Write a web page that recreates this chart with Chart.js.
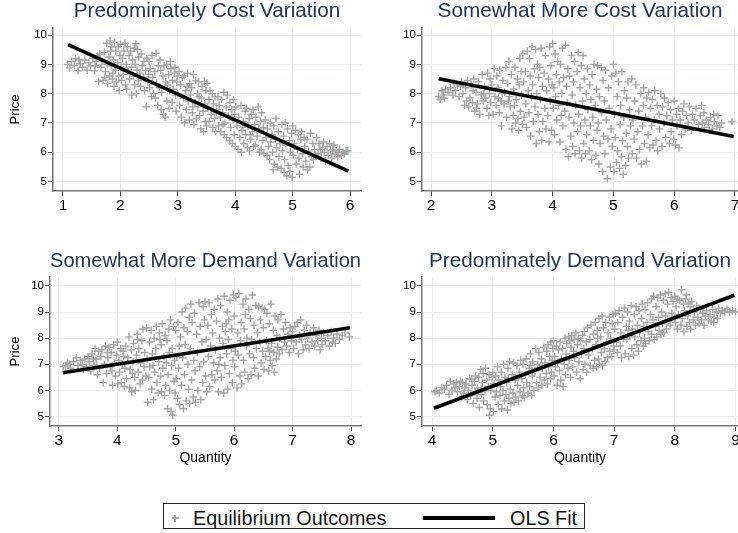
<!DOCTYPE html>
<html>
<head>
<meta charset="utf-8">
<script src="https://cdn.jsdelivr.net/npm/chart.js@4.4.0/dist/chart.umd.min.js"></script>
<style>
  html, body { margin: 0; padding: 0; background: #fff; overflow: hidden; }
  body { width: 738px; height: 533px; position: relative; font-family: "Liberation Sans", Arial, sans-serif; }
  .panel { position: absolute; }
  #legend { position: absolute; left: 163px; top: 503px; width: 422px; height: 26px; border: 1px solid #222; box-sizing: border-box; background: #fff; }
  .lg { position: absolute; font-size: 19.8px; line-height: 20px; color: #111; white-space: nowrap; }
  .mk { position: absolute; background: #a4a4a4; }
</style>
</head>
<body>
<div class="panel" style="left:0;top:0;width:369px;height:225px"><canvas id="p1"></canvas></div>
<div class="panel" style="left:369px;top:0;width:379px;height:225px"><canvas id="p2"></canvas></div>
<div class="panel" style="left:0;top:245px;width:369px;height:230px"><canvas id="p3"></canvas></div>
<div class="panel" style="left:369px;top:245px;width:379px;height:230px"><canvas id="p4"></canvas></div>

<div id="legend"></div>
<div class="mk" style="left:171.5px;top:517.3px;width:7px;height:1.4px"></div>
<div class="mk" style="left:174.3px;top:514.5px;width:1.4px;height:7px"></div>
<div class="lg" style="left:193px;top:508px">Equilibrium Outcomes</div>
<div style="position:absolute;left:423px;top:516px;width:72px;height:4px;background:#000"></div>
<div class="lg" style="left:510px;top:508px">OLS Fit</div>

<script>
// tick values
const priceTicks = [5, 6, 7, 8, 9, 10];
const costQtyTicks = [1, 2, 3, 4, 5, 6];
const moreCostQtyTicks = [2, 3, 4, 5, 6, 7];
const moreDemandQtyTicks = [3, 4, 5, 6, 7, 8];
const demandQtyTicks = [4, 5, 6, 7, 8, 9];

// OLS fit line end points (quantity, price)
const costFit = [[1.087, 9.67], [5.97, 5.36]];
const moreCostFit = [[2.126, 8.51], [6.98, 6.54]];
const moreDemandFit = [[3.07, 6.68], [7.98, 8.40]];
const demandFit = [[4.03, 5.32], [8.98, 9.64]];

// equilibrium outcomes (quantity, price)
const costPts = [
  [1.08,9.0],[1.12,8.88],[1.15,9.1],[1.2,8.95],[1.22,9.2],[1.26,8.78],[1.3,9.02],[1.34,8.9],[1.38,9.15],[1.42,8.8],[1.45,9.05],[1.48,8.95],[1.52,9.2],[1.55,8.78],[1.58,9.1],[1.6,9.3],[1.56,8.95],[1.28,9.15],
  [1.62,8.42],[1.64,9.35],[1.66,8.9],[1.68,9.1],[1.7,8.45],[1.72,9.4],[1.74,8.75],[1.76,9.72],[1.77,9.0],[1.78,8.35],[1.8,9.25],[1.81,8.6],[1.82,9.8],[1.84,8.95],[1.85,9.6],[1.86,8.5],[1.88,9.15],[1.89,8.25],[1.9,9.75],[1.91,8.8],[1.92,9.45],[1.93,8.4],[1.95,9.05],[1.96,9.6],[1.97,8.6],[1.98,8.1],[1.99,9.3],[1.87,8.7],[1.83,9.45],[1.73,8.55],
  [2.0,9.68],[2.01,8.9],[2.02,8.45],[2.04,9.2],[2.05,8.65],[2.06,9.45],[2.08,9.72],[2.09,8.3],[2.1,9.0],[2.11,8.15],[2.12,9.6],[2.13,8.75],[2.15,9.3],[2.16,8.5],[2.18,9.45],[2.19,8.9],[2.2,7.95],[2.21,9.15],[2.22,8.6],[2.24,9.55],[2.25,8.3],[2.26,9.0],[2.28,8.0],[2.29,8.8],[2.3,9.5],[2.31,8.45],[2.32,9.25],[2.34,8.7],[2.35,8.25],[2.36,9.35],[2.38,8.95],[2.4,8.55],[2.41,9.1],[2.42,8.1],[2.44,8.8],[2.45,7.55],[2.46,9.2],[2.48,8.4],[2.49,8.65],[2.27,9.7],
  [2.5,9.1],[2.51,8.2],[2.52,8.85],[2.54,7.9],[2.55,9.3],[2.56,8.55],[2.58,8.0],[2.6,8.75],[2.61,7.85],[2.62,9.38],[2.63,8.35],[2.65,7.6],[2.66,8.95],[2.68,8.2],[2.7,8.8],[2.71,7.45],[2.72,8.05],[2.74,8.6],[2.75,7.3],[2.76,8.95],[2.78,7.2],[2.79,8.4],[2.8,9.0],[2.81,7.75],[2.82,8.3],[2.84,8.65],[2.85,7.5],[2.86,8.1],[2.88,8.85],[2.9,7.7],[2.91,8.45],[2.92,8.15],[2.94,8.7],[2.95,8.9],[2.96,7.95],[2.97,7.4],[2.98,8.4],[2.99,8.6],[2.87,9.1],[2.69,9.15],
  [3.0,8.0],[3.02,8.75],[3.03,7.6],[3.05,8.3],[3.06,7.2],[3.08,8.55],[3.1,7.85],[3.11,8.6],[3.12,7.0],[3.14,8.1],[3.15,7.45],[3.17,8.7],[3.18,7.75],[3.2,7.1],[3.21,8.35],[3.22,7.95],[3.24,8.2],[3.25,7.35],[3.27,8.65],[3.28,6.95],[3.3,7.7],[3.31,8.45],[3.32,7.15],[3.34,8.0],[3.35,7.55],[3.36,8.4],[3.38,7.25],[3.4,6.8],[3.41,7.85],[3.42,8.25],[3.44,7.4],[3.45,6.7],[3.46,8.42],[3.47,7.65],[3.48,7.05],[3.49,8.1],[3.5,6.9],[3.26,7.55],[3.16,8.25],[3.37,7.9],
  [3.51,8.35],[3.52,7.5],[3.54,7.8],[3.55,7.05],[3.56,8.1],[3.58,7.3],[3.6,8.0],[3.61,6.85],[3.62,7.65],[3.64,7.15],[3.65,7.9],[3.66,6.7],[3.68,7.45],[3.7,7.9],[3.71,6.9],[3.72,7.6],[3.74,7.2],[3.75,6.7],[3.76,7.8],[3.78,7.35],[3.8,8.05],[3.81,6.6],[3.82,7.0],[3.84,7.55],[3.85,6.5],[3.86,7.95],[3.88,7.25],[3.9,6.4],[3.91,7.7],[3.92,6.85],[3.94,7.45],[3.95,6.3],[3.96,7.1],[3.97,7.8],[3.98,6.6],[3.99,7.3],[3.79,6.95],[3.67,7.35],
  [4.0,6.2],[4.01,7.55],[4.03,6.9],[4.05,6.1],[4.06,7.2],[4.08,6.5],[4.1,7.6],[4.11,6.0],[4.12,6.75],[4.14,7.05],[4.15,6.3],[4.17,7.4],[4.18,6.6],[4.2,7.5],[4.21,6.15],[4.22,6.9],[4.24,7.15],[4.25,6.05],[4.27,6.45],[4.28,7.3],[4.3,6.7],[4.31,7.45],[4.32,6.2],[4.34,6.95],[4.35,6.25],[4.36,7.2],[4.38,6.55],[4.4,7.55],[4.41,6.8],[4.42,6.0],[4.44,7.05],[4.45,6.1],[4.46,7.35],[4.48,6.4],[4.49,6.85],[4.5,5.95],[4.26,6.6],[4.13,6.85],
  [4.52,7.1],[4.54,6.5],[4.55,5.9],[4.56,6.8],[4.58,6.2],[4.6,5.75],[4.61,7.0],[4.62,6.35],[4.64,6.6],[4.65,6.0],[4.67,6.9],[4.68,5.6],[4.7,6.45],[4.71,7.15],[4.72,6.15],[4.74,5.5],[4.75,6.7],[4.76,5.85],[4.78,6.3],[4.8,5.45],[4.81,6.95],[4.82,6.05],[4.84,6.55],[4.85,5.3],[4.86,5.75],[4.88,6.25],[4.9,5.2],[4.91,6.8],[4.92,5.55],[4.94,6.4],[4.95,5.35],[4.96,6.0],[4.98,6.65],[4.99,5.15],[4.87,7.0],[4.66,5.4],
  [5.0,6.9],[5.01,5.9],[5.03,6.3],[5.05,6.75],[5.06,5.6],[5.08,6.1],[5.1,6.6],[5.11,5.8],[5.12,5.25],[5.14,6.45],[5.15,6.7],[5.17,5.95],[5.18,5.5],[5.2,6.5],[5.21,6.2],[5.23,5.7],[5.25,6.45],[5.26,5.4],[5.28,6.05],[5.3,5.5],[5.31,6.65],[5.33,5.85],[5.35,6.3],[5.36,5.75],[5.38,6.1],[5.4,5.9],[5.42,6.5],[5.44,5.95],[5.46,6.3],[5.48,6.1],
  [5.5,5.8],[5.52,6.15],[5.54,6.35],[5.55,6.0],[5.57,5.7],[5.6,6.2],[5.62,5.9],[5.64,6.3],[5.66,6.05],[5.68,5.8],[5.7,6.1],[5.72,6.25],[5.74,5.95],[5.76,6.05],[5.78,5.85],[5.8,6.0],[5.82,6.1],[5.85,5.9],[5.88,6.0],[5.9,5.95],[5.93,6.05],[5.96,6.05]
];

const moreCostPts = [
  [2.12,7.9],[2.15,7.8],[2.18,8.1],[2.2,7.95],[2.24,8.15],[2.28,8.05],[2.32,8.2],[2.36,7.95],[2.4,8.1],[2.43,8.3],[2.46,7.9],[2.48,8.25],[2.22,7.85],[2.38,8.35],
  [2.5,8.4],[2.52,8.0],[2.55,7.6],[2.57,8.2],[2.6,8.45],[2.62,7.55],[2.64,7.85],[2.66,8.3],[2.68,7.7],[2.7,8.5],[2.72,7.4],[2.74,8.05],[2.76,7.65],[2.78,8.4],[2.8,7.3],[2.82,7.95],[2.84,8.65],[2.86,7.75],[2.88,8.25],[2.9,7.85],[2.92,7.5],[2.93,8.7],[2.95,7.25],[2.96,8.0],[2.97,8.5],[2.98,7.7],[2.58,7.75],[2.69,8.1],[2.87,8.0],[2.75,7.5],
  [3.0,8.3],[3.02,7.3],[3.04,8.85],[3.05,7.9],[3.07,7.6],[3.08,8.6],[3.1,8.2],[3.12,7.35],[3.13,8.8],[3.15,7.75],[3.16,6.9],[3.18,8.45],[3.2,7.65],[3.21,8.05],[3.23,8.9],[3.24,7.2],[3.26,8.35],[3.28,9.1],[3.29,7.9],[3.3,7.55],[3.32,8.65],[3.33,6.8],[3.35,7.25],[3.36,8.15],[3.38,8.9],[3.39,7.0],[3.4,7.8],[3.42,8.5],[3.43,7.15],[3.44,6.75],[3.45,8.3],[3.46,9.2],[3.47,7.4],[3.48,8.75],[3.49,7.95],[3.5,6.95],[3.17,8.0],[3.27,7.75],[3.11,7.85],[3.37,7.6],
  [3.51,9.35],[3.52,8.4],[3.53,7.2],[3.55,8.75],[3.56,7.65],[3.57,6.85],[3.58,9.45],[3.6,8.1],[3.61,7.35],[3.62,9.2],[3.63,8.6],[3.64,6.55],[3.65,7.9],[3.66,9.6],[3.67,8.3],[3.68,7.05],[3.7,8.85],[3.71,7.55],[3.72,9.5],[3.73,6.3],[3.74,8.0],[3.75,9.0],[3.76,7.3],[3.77,8.55],[3.78,6.7],[3.79,8.9],[3.8,7.8],[3.81,9.55],[3.82,6.4],[3.83,8.25],[3.84,7.05],[3.86,8.7],[3.87,7.5],[3.88,9.3],[3.89,6.8],[3.9,8.1],[3.92,7.25],[3.93,8.5],[3.94,6.35],[3.95,9.6],[3.96,7.75],[3.97,8.95],[3.98,6.75],[3.99,8.3],
  [4.0,9.7],[4.01,7.5],[4.02,8.2],[4.03,6.6],[4.04,9.35],[4.05,7.9],[4.06,8.65],[4.07,7.1],[4.08,9.1],[4.1,7.6],[4.11,8.4],[4.12,6.35],[4.13,9.0],[4.14,7.25],[4.15,8.0],[4.16,9.55],[4.17,6.9],[4.18,8.55],[4.2,7.4],[4.21,9.65],[4.22,6.1],[4.23,8.25],[4.24,7.7],[4.25,8.85],[4.26,5.85],[4.27,7.2],[4.28,8.6],[4.3,6.55],[4.31,9.3],[4.32,7.95],[4.33,6.2],[4.34,8.4],[4.35,7.0],[4.36,9.1],[4.37,5.95],[4.38,7.6],[4.4,8.75],[4.41,6.7],[4.42,9.4],[4.43,7.3],[4.44,6.05],[4.45,8.2],[4.46,6.9],[4.47,8.95],[4.48,5.8],[4.49,7.75],
  [4.5,9.3],[4.51,6.3],[4.52,8.5],[4.53,7.1],[4.54,5.95],[4.55,8.0],[4.56,6.6],[4.57,8.85],[4.58,7.45],[4.6,6.05],[4.61,8.3],[4.62,6.9],[4.63,7.8],[4.64,5.75],[4.65,8.65],[4.66,7.2],[4.67,6.4],[4.68,9.0],[4.7,7.6],[4.71,5.9],[4.72,8.15],[4.73,6.75],[4.74,8.95],[4.75,7.0],[4.76,5.6],[4.77,7.9],[4.78,6.3],[4.8,8.9],[4.81,7.35],[4.82,5.35],[4.83,8.45],[4.84,6.55],[4.85,7.75],[4.86,5.95],[4.87,8.8],[4.88,7.1],[4.9,5.1],[4.91,6.45],[4.92,8.2],[4.93,7.5],[4.95,5.5],[4.96,6.8],[4.97,8.6],[4.98,6.2],
  [5.0,9.0],[5.01,5.35],[5.02,7.3],[5.03,6.5],[5.04,8.7],[5.05,5.65],[5.06,7.9],[5.07,6.05],[5.08,8.4],[5.1,5.45],[5.11,6.95],[5.12,7.6],[5.13,5.85],[5.14,8.75],[5.15,6.4],[5.16,5.25],[5.17,7.2],[5.18,8.1],[5.2,5.55],[5.21,6.65],[5.22,7.85],[5.23,6.2],[5.24,8.4],[5.25,5.8],[5.27,7.45],[5.28,6.9],[5.3,8.5],[5.31,5.95],[5.32,7.1],[5.34,6.45],[5.35,7.75],[5.37,8.3],[5.38,5.8],[5.4,6.7],[5.42,7.4],[5.43,6.1],[5.45,8.0],[5.46,5.6],[5.48,6.9],[5.49,7.6],
  [5.5,8.2],[5.51,6.3],[5.53,7.2],[5.54,5.7],[5.55,7.85],[5.57,6.6],[5.58,8.05],[5.6,6.15],[5.61,7.5],[5.63,6.9],[5.64,7.8],[5.65,6.25],[5.67,7.1],[5.68,8.1],[5.7,6.4],[5.72,7.6],[5.73,6.05],[5.75,7.3],[5.76,6.8],[5.78,8.0],[5.8,6.2],[5.81,7.55],[5.83,7.0],[5.84,7.85],[5.86,6.5],[5.88,7.25],[5.9,7.7],[5.92,6.3],[5.94,7.45],[5.95,6.7],[5.97,7.1],[5.99,6.45],
  [6.0,7.75],[6.02,6.25],[6.04,7.3],[6.05,6.9],[6.07,7.5],[6.08,6.15],[6.1,7.1],[6.12,6.6],[6.14,7.4],[6.16,7.65],[6.18,6.8],[6.2,7.25],[6.23,7.0],[6.25,7.55],[6.28,6.75],[6.3,7.3],[6.33,7.1],[6.36,7.5],[6.4,6.95],[6.43,7.25],[6.46,7.0],[6.49,7.35],
  [6.5,6.85],[6.53,7.1],[6.56,6.95],[6.6,7.2],[6.63,6.8],[6.66,7.05],[6.7,6.9],[6.72,7.25],[6.75,6.85],[6.78,7.0],[6.65,7.3],[6.58,6.75],[6.95,7.05],[6.45,7.6]
];

const moreDemandPts = [
  [3.08,6.9],[3.12,6.95],[3.15,7.05],[3.2,6.85],[3.25,7.1],[3.3,7.25],[3.33,6.95],[3.37,7.15],[3.4,7.0],[3.44,7.2],[3.47,6.9],[3.5,7.3],[3.18,7.0],[3.42,6.8],
  [3.52,7.1],[3.55,6.75],[3.57,7.4],[3.6,6.95],[3.62,7.6],[3.64,7.2],[3.66,6.6],[3.68,7.5],[3.7,6.85],[3.72,7.3],[3.74,7.55],[3.76,6.3],[3.78,7.0],[3.8,7.7],[3.82,6.65],[3.84,7.25],[3.86,7.65],[3.88,6.9],[3.9,7.45],[3.92,6.2],[3.94,7.75],[3.95,7.05],[3.97,6.55],[3.99,7.35],[3.65,6.95],[3.83,7.45],[3.59,7.2],[3.91,6.75],
  [4.0,7.85],[4.01,6.25],[4.03,7.15],[4.04,6.7],[4.06,7.6],[4.07,6.3],[4.09,7.0],[4.1,7.5],[4.12,6.15],[4.13,6.85],[4.15,7.7],[4.16,6.45],[4.18,7.25],[4.2,8.05],[4.21,6.1],[4.22,6.8],[4.24,7.55],[4.25,5.95],[4.27,7.1],[4.28,7.8],[4.3,6.5],[4.31,6.0],[4.33,7.35],[4.34,8.15],[4.36,6.7],[4.37,7.6],[4.39,6.25],[4.4,7.05],[4.42,7.9],[4.43,6.4],[4.44,8.35],[4.46,6.9],[4.47,7.45],[4.49,6.55],[4.5,8.4],[4.35,7.95],[4.11,7.3],[4.26,6.65],
  [4.51,7.2],[4.52,5.55],[4.54,6.5],[4.55,7.85],[4.56,6.9],[4.58,8.3],[4.59,6.05],[4.6,7.4],[4.62,5.65],[4.63,8.0],[4.64,6.7],[4.66,7.6],[4.67,8.45],[4.68,6.3],[4.7,5.9],[4.71,7.1],[4.72,8.2],[4.74,6.55],[4.75,7.75],[4.76,5.95],[4.77,8.55],[4.78,6.85],[4.8,7.3],[4.81,5.8],[4.82,8.1],[4.83,6.2],[4.85,7.9],[4.86,5.3],[4.87,6.6],[4.88,8.35],[4.89,7.45],[4.9,6.0],[4.91,8.7],[4.92,5.2],[4.93,6.95],[4.94,7.6],[4.95,5.05],[4.96,8.45],[4.97,6.35],[4.98,7.15],[4.99,5.9],[4.84,7.05],[4.73,7.95],[4.61,6.95],
  [5.0,8.3],[5.01,6.45],[5.02,7.3],[5.03,5.7],[5.04,8.6],[5.05,6.85],[5.06,7.7],[5.07,5.45],[5.08,8.05],[5.1,6.2],[5.11,9.0],[5.12,7.25],[5.13,5.3],[5.14,8.4],[5.15,6.6],[5.16,7.75],[5.17,9.15],[5.18,5.6],[5.2,8.25],[5.21,7.0],[5.22,6.05],[5.23,8.8],[5.24,5.5],[5.25,7.6],[5.26,9.3],[5.27,6.4],[5.28,8.6],[5.3,5.75],[5.31,7.15],[5.32,8.95],[5.33,6.75],[5.34,5.55],[5.36,8.15],[5.37,7.45],[5.38,6.0],[5.4,9.35],[5.41,6.9],[5.42,8.45],[5.43,5.65],[5.45,7.85],[5.46,6.3],[5.47,9.2],[5.48,7.1],[5.49,8.7],
  [5.5,9.4],[5.51,6.55],[5.52,7.95],[5.53,5.95],[5.55,8.5],[5.56,7.3],[5.57,9.35],[5.58,6.15],[5.6,7.7],[5.61,8.9],[5.62,6.6],[5.63,8.2],[5.65,7.05],[5.66,9.1],[5.67,6.4],[5.68,7.55],[5.7,8.65],[5.71,6.75],[5.72,9.5],[5.73,5.95],[5.75,8.0],[5.76,7.25],[5.77,9.25],[5.78,6.5],[5.8,8.45],[5.81,7.8],[5.82,5.9],[5.83,9.6],[5.84,6.95],[5.85,8.25],[5.87,7.4],[5.88,9.0],[5.89,6.05],[5.9,7.95],[5.91,8.7],[5.92,6.65],[5.93,9.45],[5.95,7.6],[5.96,8.35],[5.97,6.3],[5.98,7.15],[5.99,9.65],[5.74,7.0],[5.86,8.55],
  [6.0,8.85],[6.01,6.9],[6.02,7.5],[6.03,9.55],[6.05,6.1],[6.06,8.2],[6.07,7.35],[6.08,9.7],[6.1,6.55],[6.11,7.9],[6.12,8.6],[6.13,6.25],[6.15,9.3],[6.16,7.15],[6.17,8.35],[6.18,6.7],[6.2,9.5],[6.21,7.7],[6.22,8.0],[6.24,6.45],[6.25,9.1],[6.26,7.4],[6.28,8.75],[6.29,6.6],[6.3,7.95],[6.31,9.65],[6.33,7.25],[6.34,8.5],[6.35,6.85],[6.37,9.25],[6.38,7.6],[6.4,8.2],[6.41,6.55],[6.42,9.2],[6.44,7.85],[6.45,8.7],[6.46,7.05],[6.48,9.15],[6.49,7.5],[6.19,8.9],
  [6.5,8.4],[6.51,6.8],[6.52,9.1],[6.54,7.3],[6.55,7.9],[6.56,8.95],[6.58,7.6],[6.59,6.75],[6.6,8.55],[6.62,7.15],[6.63,9.3],[6.64,7.8],[6.65,6.95],[6.67,8.3],[6.68,7.45],[6.69,6.7],[6.7,8.85],[6.72,7.2],[6.73,8.1],[6.74,7.65],[6.75,8.7],[6.77,7.4],[6.78,8.0],[6.8,8.9],[6.82,7.55],[6.84,8.35],[6.86,7.85],[6.88,8.6],[6.9,7.7],[6.92,8.15],[6.94,7.45],[6.96,8.4],[6.98,7.9],[6.61,7.5],
  [7.0,8.25],[7.02,7.6],[7.04,8.45],[7.06,7.85],[7.08,8.6],[7.1,7.4],[7.12,8.1],[7.14,8.7],[7.16,7.95],[7.18,7.55],[7.2,8.3],[7.22,7.75],[7.24,8.5],[7.26,8.0],[7.28,7.6],[7.3,8.2],[7.33,7.85],[7.36,8.4],[7.38,7.7],[7.4,8.1],[7.43,7.9],[7.45,8.3],[7.47,7.55],[7.49,8.0],
  [7.5,7.75],[7.53,8.2],[7.56,7.9],[7.6,8.1],[7.63,7.7],[7.66,8.25],[7.68,7.85],[7.7,8.0],[7.73,7.8],[7.76,8.15],[7.8,7.95],[7.85,8.1],[7.9,8.2],[7.97,8.05]
];

const demandPts = [
  [4.05,5.95],[4.08,6.0],[4.12,5.9],[4.16,6.1],[4.2,6.05],[4.24,6.2],[4.28,5.85],[4.3,6.35],[4.33,6.0],[4.36,6.25],[4.4,6.3],[4.42,5.95],[4.45,6.15],[4.47,6.35],[4.49,5.75],[4.38,6.1],
  [4.5,6.3],[4.52,5.9],[4.54,6.1],[4.56,6.25],[4.58,5.65],[4.6,6.0],[4.62,6.45],[4.64,5.8],[4.66,6.2],[4.68,5.5],[4.7,6.35],[4.71,5.95],[4.72,6.55],[4.74,5.7],[4.75,6.1],[4.77,6.5],[4.78,5.35],[4.8,6.8],[4.81,5.85],[4.83,6.3],[4.84,6.65],[4.85,5.6],[4.87,6.0],[4.88,6.85],[4.9,6.4],[4.91,5.45],[4.93,6.15],[4.94,6.6],[4.95,5.05],[4.96,5.3],[4.97,6.0],[4.99,6.5],[4.65,6.45],[4.82,6.05],
  [5.0,6.7],[5.01,5.2],[5.02,6.25],[5.04,5.75],[5.05,6.55],[5.06,5.95],[5.08,6.9],[5.09,5.45],[5.1,6.4],[5.12,5.8],[5.13,6.15],[5.14,6.7],[5.15,5.3],[5.17,6.0],[5.18,7.0],[5.19,5.6],[5.2,6.5],[5.22,5.85],[5.23,6.3],[5.24,5.25],[5.25,6.85],[5.27,5.7],[5.28,7.1],[5.29,6.05],[5.3,5.5],[5.32,6.6],[5.33,5.9],[5.34,7.05],[5.35,5.55],[5.37,6.4],[5.38,5.75],[5.4,6.95],[5.41,6.2],[5.42,5.6],[5.44,6.7],[5.45,5.95],[5.46,7.15],[5.48,6.45],[5.49,5.8],[5.26,6.45],
  [5.5,7.0],[5.51,6.1],[5.52,5.75],[5.54,6.6],[5.55,7.2],[5.56,6.3],[5.58,5.9],[5.6,6.85],[5.61,6.15],[5.62,7.4],[5.64,5.8],[5.65,6.55],[5.66,7.1],[5.68,6.0],[5.7,6.75],[5.71,7.6],[5.72,6.3],[5.74,7.0],[5.75,6.1],[5.76,7.45],[5.78,6.5],[5.8,7.2],[5.81,6.2],[5.82,6.85],[5.84,7.65],[5.85,6.4],[5.86,7.05],[5.88,6.65],[5.89,7.5],[5.9,6.25],[5.91,7.75],[5.92,6.9],[5.94,7.3],[5.95,6.45],[5.96,7.85],[5.97,6.7],[5.98,7.15],[5.99,7.6],[5.63,6.95],[5.79,6.95],
  [6.0,7.9],[6.01,6.55],[6.02,7.3],[6.03,6.9],[6.05,7.7],[6.06,6.2],[6.07,7.05],[6.08,7.55],[6.1,6.75],[6.11,7.85],[6.12,6.4],[6.13,7.2],[6.15,7.6],[6.16,6.15],[6.18,7.0],[6.19,8.0],[6.2,6.6],[6.21,7.4],[6.22,7.8],[6.24,6.85],[6.25,8.05],[6.26,7.15],[6.28,6.5],[6.29,7.65],[6.3,8.1],[6.32,6.9],[6.33,7.5],[6.34,7.95],[6.35,7.25],[6.37,8.2],[6.38,6.7],[6.4,7.75],[6.41,8.0],[6.42,7.1],[6.44,6.45],[6.45,7.9],[6.46,7.4],[6.48,8.1],[6.49,6.8],[6.27,7.9],
  [6.5,7.6],[6.51,8.25],[6.52,7.0],[6.54,7.85],[6.55,6.7],[6.56,8.4],[6.58,7.35],[6.6,7.95],[6.61,6.95],[6.62,8.5],[6.64,7.6],[6.65,6.85],[6.66,8.15],[6.68,7.15],[6.69,8.6],[6.7,7.75],[6.71,6.9],[6.72,8.3],[6.74,7.2],[6.75,8.75],[6.76,7.0],[6.78,8.05],[6.79,7.45],[6.8,8.85],[6.81,6.95],[6.82,8.4],[6.84,7.6],[6.85,7.1],[6.86,8.6],[6.88,7.85],[6.89,7.25],[6.9,8.2],[6.92,8.8],[6.93,7.5],[6.94,8.0],[6.96,7.3],[6.97,8.55],[6.98,8.9],[6.99,7.7],[6.73,8.0],
  [7.0,7.55],[7.01,8.35],[7.02,8.95],[7.04,7.85],[7.05,7.45],[7.06,8.6],[7.08,9.05],[7.1,7.7],[7.11,8.2],[7.12,7.25],[7.14,8.8],[7.15,8.0],[7.17,9.15],[7.18,7.4],[7.2,8.45],[7.21,7.95],[7.22,9.0],[7.24,7.3],[7.25,8.65],[7.26,8.1],[7.28,9.25],[7.29,7.6],[7.3,8.35],[7.32,7.35],[7.33,8.9],[7.34,8.05],[7.36,9.2],[7.37,7.75],[7.38,8.5],[7.4,7.5],[7.41,9.05],[7.42,8.2],[7.44,7.9],[7.45,8.75],[7.46,9.3],[7.48,7.7],[7.49,8.45],[7.23,8.3],
  [7.5,8.0],[7.51,9.1],[7.52,7.8],[7.54,8.6],[7.55,9.35],[7.56,8.25],[7.58,7.9],[7.6,8.9],[7.61,9.5],[7.62,8.15],[7.64,8.7],[7.65,9.6],[7.66,7.95],[7.68,8.45],[7.69,9.2],[7.7,8.05],[7.72,9.55],[7.73,8.8],[7.74,8.3],[7.76,9.65],[7.77,8.15],[7.78,9.0],[7.8,8.55],[7.81,9.45],[7.82,8.2],[7.84,9.7],[7.85,8.85],[7.86,8.35],[7.88,9.3],[7.89,8.65],[7.9,9.75],[7.92,8.5],[7.94,9.55],[7.95,8.95],[7.97,9.4],[7.99,8.75],
  [8.0,9.6],[8.01,8.6],[8.02,9.2],[8.04,8.35],[8.05,9.5],[8.06,8.9],[8.08,9.45],[8.1,8.5],[8.11,9.85],[8.12,8.75],[8.14,9.3],[8.15,8.25],[8.16,9.05],[8.18,9.5],[8.2,8.45],[8.21,8.85],[8.22,9.35],[8.24,8.6],[8.25,9.2],[8.26,8.35],[8.28,9.4],[8.3,8.7],[8.32,9.0],[8.34,8.5],[8.36,9.25],[8.38,8.8],[8.4,8.55],[8.42,9.1],[8.44,8.7],[8.46,8.95],[8.48,8.5],[8.19,9.65],
  [8.5,8.85],[8.52,9.05],[8.55,8.7],[8.58,8.9],[8.6,8.65],[8.62,9.1],[8.65,8.8],[8.68,9.0],[8.7,8.75],[8.72,9.15],[8.75,8.95],[8.78,9.05],[8.82,9.0],[8.86,9.1],[8.9,9.0],[8.95,9.05],[9.0,9.0],[8.64,8.6]
];

Chart.defaults.font.family = "'Liberation Sans', Arial, sans-serif";

function toXY(arr) {
  return arr.map(p => ({ x: p[0], y: p[1] }));
}

function drawPanel(id, cfg) {
  new Chart(document.getElementById(id), {
    type: "scatter",
    data: {
      datasets: [
        {
          type: "line",
          label: "OLS Fit",
          data: toXY(cfg.fit),
          borderColor: "#000",
          borderWidth: 3.6,
          pointRadius: 0,
          fill: false,
          order: 0,
        },
        {
          label: "Equilibrium Outcomes",
          data: toXY(cfg.pts),
          pointStyle: "cross",
          pointRadius: 3.8,
          borderWidth: 1.4,
          borderColor: "#a4a4a4",
          backgroundColor: "#a4a4a4",
          order: 1,
        },
      ],
    },
    options: {
      responsive: true,
      maintainAspectRatio: false,
      animation: false,
      devicePixelRatio: 1,
      layout: { padding: { left: 0, right: cfg.padRight, top: 0, bottom: 0 } },
      plugins: {
        legend: { display: false },
        tooltip: { enabled: false },
        title: {
          display: true,
          text: cfg.title,
          fullSize: false,
          color: "#22335a",
          font: { size: 20.7, weight: "normal", lineHeight: 1.1 },
          padding: { top: cfg.titleTop, bottom: cfg.titleBottom },
        },
      },
      scales: {
        x: {
          type: "linear",
          min: cfg.xMin,
          max: cfg.xMax,
          afterBuildTicks: (s) => { s.ticks = cfg.xTicks.map(v => ({ value: v })); },
          afterFit: (s) => { s.height = cfg.xHeight; },
          ticks: { color: "#000", font: { size: 15.5 }, padding: 0, maxRotation: 0, autoSkip: false },
          grid: { color: "#e6eef0", lineWidth: 1, tickColor: "#444", tickLength: 5, tickWidth: 1 },
          border: { color: "#777", width: 1.5 },
          title: {
            display: cfg.showX,
            text: "Quantity",
            color: "#000",
            font: { size: 14 },
            padding: { top: 0, bottom: 8.4 },
          },
        },
        y: {
          type: "linear",
          min: cfg.yMin,
          max: cfg.yMax,
          afterBuildTicks: (s) => { s.ticks = priceTicks.map(v => ({ value: v })); },
          afterFit: (s) => { s.width = cfg.yWidth; },
          ticks: { color: "#000", font: { size: 11.5 }, padding: 1 },
          grid: { color: "#e6eef0", lineWidth: 1, tickColor: "#444", tickLength: 5, tickWidth: 1 },
          border: { color: "#777", width: 1.5 },
          title: {
            display: cfg.showY,
            text: "Price",
            color: "#000",
            font: { size: 13.2 },
            padding: { top: 7.6, bottom: 0 },
          },
        },
      },
    },
  });
}

drawPanel("p1", {
  title: "Predominately Cost Variation", pts: costPts, fit: costFit, xTicks: costQtyTicks,
  xMin: 0.826, xMax: 6.19, yMin: 4.68, yMax: 10.24,
  padRight: 8, yWidth: 53, xHeight: 34, titleTop: 0, titleBottom: 5.2, showX: false, showY: true,
});
drawPanel("p2", {
  title: "Somewhat More Cost Variation", pts: moreCostPts, fit: moreCostFit, xTicks: moreCostQtyTicks,
  xMin: 1.85, xMax: 7.05, yMin: 4.68, yMax: 10.24,
  padRight: 10, yWidth: 53, xHeight: 34, titleTop: 0, titleBottom: 5.2, showX: false, showY: false,
});
drawPanel("p3", {
  title: "Somewhat More Demand Variation", pts: moreDemandPts, fit: moreDemandFit, xTicks: moreDemandQtyTicks,
  xMin: 2.85, xMax: 8.17, yMin: 4.64, yMax: 10.34,
  padRight: 8, yWidth: 50, xHeight: 49, titleTop: 5.2, titleBottom: 4, showX: true, showY: true,
});
drawPanel("p4", {
  title: "Predominately Demand Variation", pts: demandPts, fit: demandFit, xTicks: demandQtyTicks,
  xMin: 3.835, xMax: 9.04, yMin: 4.64, yMax: 10.34,
  padRight: 10, yWidth: 53, xHeight: 49, titleTop: 5.2, titleBottom: 4, showX: true, showY: false,
});
</script>
</body>
</html>
